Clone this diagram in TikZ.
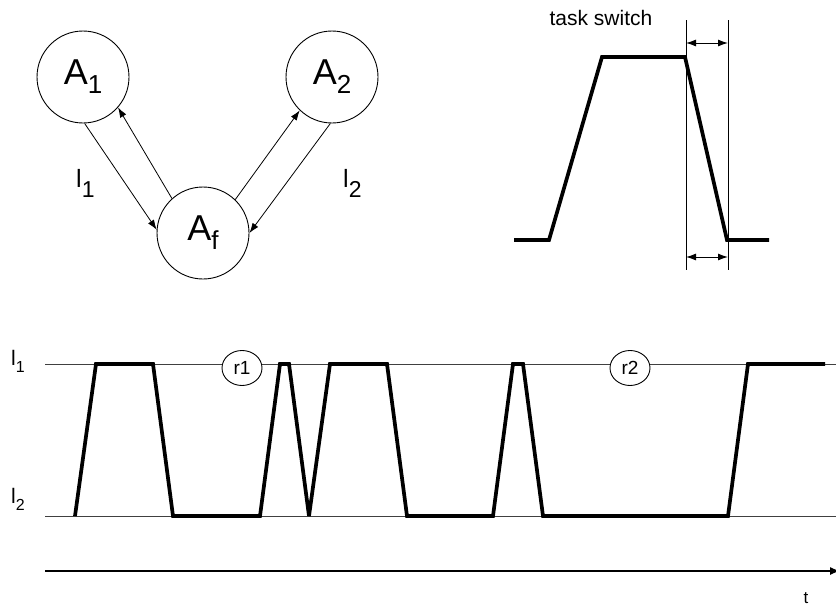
\documentclass[tikz,border=0pt]{standalone}
\usepackage{fontspec}
\setmainfont{Liberation Sans}
\usetikzlibrary{arrows.meta,shapes.geometric}
\newcommand{\mybig}[2]{{\fontsize{36}{40}\selectfont #1}\raisebox{-9pt}{\fontsize{26}{28}\selectfont #2}}
\newcommand{\myel}[2]{{\fontsize{25}{28}\selectfont #1}\raisebox{-10pt}{\fontsize{23}{26}\selectfont #2}}
\newcommand{\mysmall}[2]{{\fontsize{21}{24}\selectfont #1}\raisebox{-7pt}{\fontsize{16}{18}\selectfont #2}}
\begin{document}
\begin{tikzpicture}[x=1pt,y=-1pt,
  agent/.style={circle,draw,line width=0.9pt,minimum size=92pt,inner sep=0pt},
  link/.style={line width=0.8pt,-{Latex[length=10pt,width=7pt]}},
  dbl/.style={line width=1pt,{Latex[length=10pt,width=7pt]}-{Latex[length=10pt,width=7pt]}},
  sig/.style={line width=3.7pt,line join=miter,miter limit=2.5},
  level/.style={line width=0.6pt,draw=black!75},
  tag/.style={ellipse,draw,line width=0.9pt,fill=white,minimum width=40pt,minimum height=35pt,inner sep=0pt,font=\fontsize{19}{22}\selectfont}]
\useasboundingbox (0,0) rectangle (836,605);
% agents
\node[agent] (A1) at (83,77) {\mybig{A}{1}};
\node[agent] (A2) at (332,77) {\mybig{A}{2}};
\node[agent] (Af) at (203,233) {\mybig{A}{f}};
\draw[link] (A1.-88) -- (Af.176);
\draw[link] (Af.132) -- (A1.-41);
\draw[link] (Af.46) -- (A2.-134);
\draw[link] (A2.-92) -- (Af.0);
\node[anchor=base west,inner sep=0pt] (l1) at (76,187) {\myel{l}{1}};
\node[anchor=base west,inner sep=0pt] (l2) at (343,187) {\myel{l}{2}};
% task switch
\node[anchor=base,inner sep=0pt,font=\fontsize{21}{24}\selectfont] (ts) at (601,25) {task switch};
\draw[sig] (514,240) -- (549,240) -- (602,57) -- (685,57) -- (727,240) -- (769,240);
\coordinate (v1t) at (686,20); \coordinate (v1b) at (686,270);
\coordinate (v2t) at (728,20); \coordinate (v2b) at (728,270);
\draw[line width=1pt] (v1t) -- (v1b);
\draw[line width=1pt] (v2t) -- (v2b);
\draw[dbl] (686,43) -- (728,43);
\draw[dbl] (686,257) -- (728,257);
% timeline
\draw[level] (45,364) -- (836,364);
\draw[level] (45,516) -- (836,516);
\node[anchor=base west,inner sep=0pt] (L1) at (11,365) {\mysmall{l}{1}};
\node[anchor=base west,inner sep=0pt] (L2) at (11,503) {\mysmall{l}{2}};
\draw[sig] (75,516) -- (96,364) -- (153,364) -- (173,516) -- (260,516) -- (280,364) -- (289,364) -- (309,516) -- (330,364) -- (387,364) -- (407,516) -- (493,516) -- (513,364) -- (523,364) -- (543,516) -- (728,516) -- (748,364) -- (825,364);
\node[tag] (r1) at (242,368) {r1};
\node[tag] (r2) at (630,368) {r2};
% time axis
\draw[line width=1.2pt,-{Latex[length=10pt,width=8pt]}] (45,571) -- (840,571);
\node[anchor=base,inner sep=0pt,font=\fontsize{17}{20}\selectfont] (t) at (806,603) {t};
\end{tikzpicture}
\end{document}
